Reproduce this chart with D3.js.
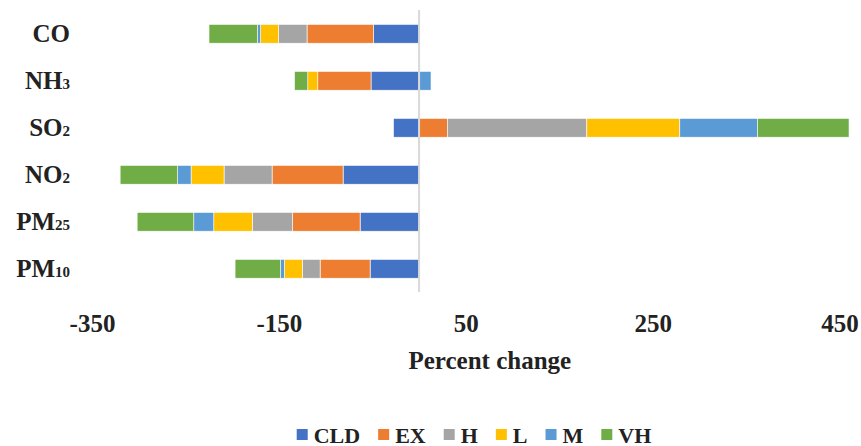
<!DOCTYPE html>
<html>
<head>
<meta charset="utf-8">
<script src="https://cdn.jsdelivr.net/npm/d3@7"></script>
<style>
  html, body { margin: 0; padding: 0; background: #fff; }
  svg { display: block; }
  text { font-family: "Liberation Serif", "Times New Roman", serif; font-weight: bold; fill: #222; }
</style>
</head>
<body>
<svg id="chart" width="861" height="446"></svg>
<script>
// Pollutants, top to bottom; [name, subscript]
const pollutants = [["CO", ""], ["NH", "3"], ["SO", "2"], ["NO", "2"], ["PM", "25"], ["PM", "10"]];
const categories = pollutants.map(p => p[0] + p[1]);

// Percent change per scenario (same order as categories)
const seriesKeys = ["CLD", "EX", "H", "L", "M", "VH"];
const CLD = [-48.6, -51.4, -27.4, -81.3, -63.1, -52.4];
const EX  = [-71.3, -57.0,  30.3, -76.0, -72.4, -53.5];
const H   = [-30.4,   0.0, 149.2, -51.4, -42.8, -18.9];
const L   = [-19.3, -10.7,  99.5, -35.3, -41.4, -19.3];
const M   = [ -3.2,  12.8,  83.0, -14.3, -21.4,  -4.0];
const VH  = [-52.0, -14.2,  98.1, -61.6, -60.6, -48.8];

const tickValues = [-350, -150, 50, 250, 450];
const colors = ["#4472C4", "#ED7D31", "#A5A5A5", "#FFC000", "#5B9BD5", "#70AD47"];

const seriesValues = { CLD, EX, H, L, M, VH };
const rows = categories.map((c, i) => {
  const r = { category: c };
  seriesKeys.forEach(k => r[k] = seriesValues[k][i]);
  return r;
});

const svg = d3.select("#chart");

const x = d3.scaleLinear().domain([-350, 450]).range([92, 839.6]);
const y = d3.scaleBand().domain(categories).range([10.3, 292.3])
  .paddingInner(0.6).paddingOuter(0.3);
const color = d3.scaleOrdinal().domain(seriesKeys).range(colors);

const stacked = d3.stack().keys(seriesKeys).offset(d3.stackOffsetDiverging)(rows);

// Stacked bars
svg.append("g").selectAll("g")
  .data(stacked)
  .join("g")
  .attr("fill", d => color(d.key))
  .selectAll("rect")
  .data(d => d)
  .join("rect")
  .attr("x", d => x(Math.min(d[0], d[1])))
  .attr("width", d => Math.abs(x(d[1]) - x(d[0])))
  .attr("y", d => y(d.data.category))
  .attr("height", y.bandwidth())
  .attr("stroke", "#ffffff")
  .attr("stroke-width", 0.6);

// Zero reference line
svg.append("line")
  .attr("x1", x(0)).attr("x2", x(0))
  .attr("y1", 10).attr("y2", 292)
  .attr("stroke", "#d9d9d9")
  .attr("stroke-width", 2);

// X axis
const xAxis = svg.append("g")
  .attr("transform", "translate(0,331.5)")
  .call(d3.axisBottom(x).tickValues(tickValues).tickSize(0).tickFormat(d => String(d)));
xAxis.attr("font-family", null).attr("font-size", null);
xAxis.select(".domain").remove();
xAxis.selectAll("text")
  .attr("y", 0).attr("dy", 0)
  .style("font-family", "'Liberation Serif', serif")
  .style("font-weight", "bold")
  .style("font-size", "25px")
  .attr("fill", "#222");

svg.append("text")
  .attr("x", x(50) + 24)
  .attr("y", 368.5)
  .attr("text-anchor", "middle")
  .style("font-size", "25px")
  .text("Percent change");

// Y labels with subscripts
const yLabels = svg.append("g").selectAll("text")
  .data(pollutants)
  .join("text")
  .attr("x", 70)
  .attr("y", (d, i) => y(categories[i]) + y.bandwidth() / 2 + 8.3)
  .attr("text-anchor", "end")
  .style("font-size", "25px");
yLabels.append("tspan").text(d => d[0]);
yLabels.append("tspan")
  .style("font-size", "15px")
  .text(d => d[1]);

// Legend
const legend = svg.append("g");
const items = legend.selectAll("g")
  .data(seriesKeys)
  .join("g");
items.append("rect")
  .attr("width", 11).attr("height", 11)
  .attr("y", 429)
  .attr("fill", d => color(d));
items.append("text")
  .attr("x", 17)
  .attr("y", 442.5)
  .style("font-size", "22px")
  .text(d => d);

const widths = [];
items.each(function () {
  widths.push(17 + this.querySelector("text").getComputedTextLength());
});
const gap = 18;
const total = d3.sum(widths) + gap * (widths.length - 1);
let start = 474 - total / 2;
items.attr("transform", (d, i) => {
  const t = `translate(${start},0)`;
  start += widths[i] + gap;
  return t;
});
</script>
</body>
</html>
